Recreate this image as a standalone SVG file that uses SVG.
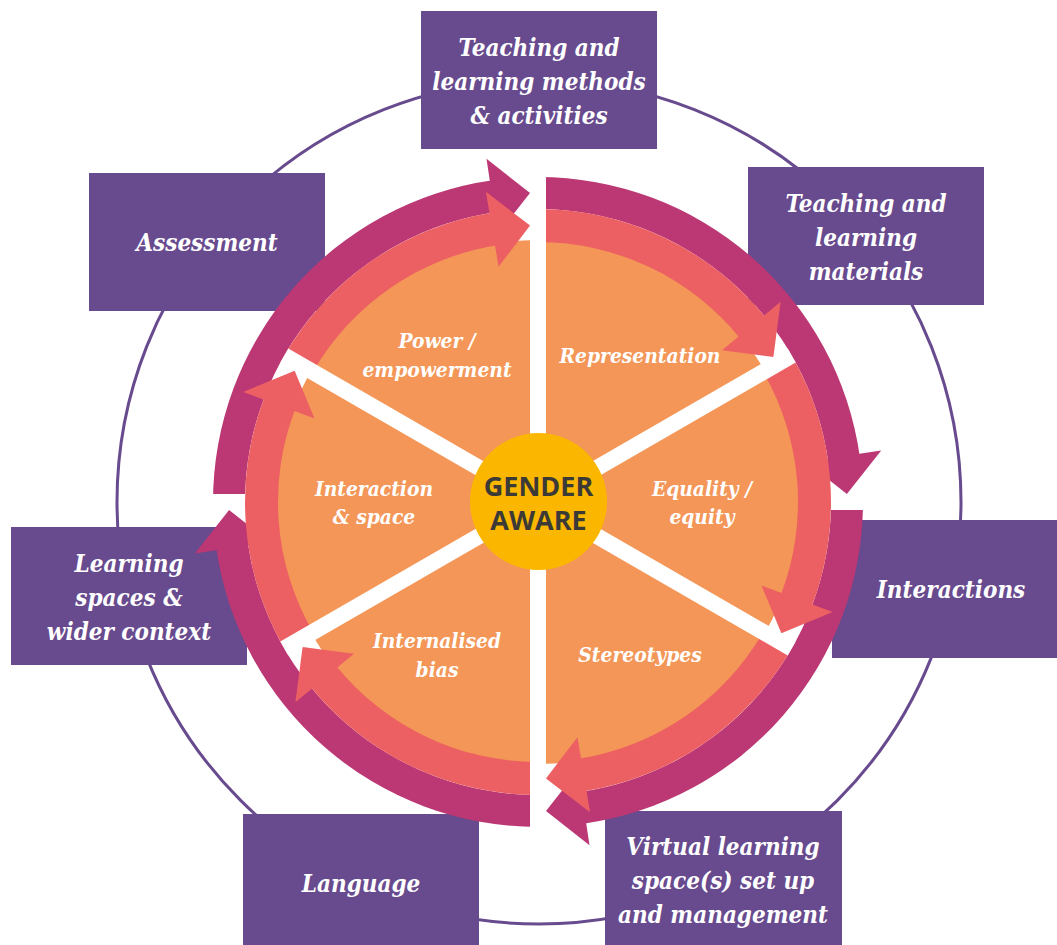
<svg xmlns="http://www.w3.org/2000/svg" xmlns:xlink="http://www.w3.org/1999/xlink" width="1057" height="945" viewBox="0 0 1057 945">
<style>
.box{fill:#684A8E}
.bt{font-family:'DejaVu Serif Condensed','DejaVu Serif',serif;font-stretch:condensed;font-style:italic;font-weight:bold;font-size:24px;fill:#fff;text-anchor:middle}
.pt{font-family:'DejaVu Serif Condensed','DejaVu Serif',serif;font-stretch:condensed;font-style:italic;font-weight:bold;font-size:20.8px;fill:#fff;text-anchor:middle}
.ct{font-family:'Open Sans','Noto Sans',sans-serif;font-weight:bold;font-size:27px;fill:#3C3A36;text-anchor:middle}
.mag{fill:#BB3874}
.cor{fill:#EC6063}
.gap{fill:#fff}
.ring{fill:none;stroke:#684A8E;stroke-width:3}
</style>
<defs>
<g id="magSeg"><path d="M538,177 A325,325 0 0 1 859.8,456.6 L828.1,461.1 A293,293 0 0 0 538,209 Z"/><path d="M881.2,450.5 L846.9,494.0 L806.0,461.8 Z"/></g>
<g id="corSeg"><path d="M538,209 A293,293 0 0 1 765.6,317.5 L740.0,338.3 A260,260 0 0 0 538,242 Z"/><path d="M780.6,301.8 L773.4,356.9 L722.0,350.2 Z"/></g>
</defs>
<rect width="1057" height="945" fill="#fff"/>
<circle class="ring" cx="539" cy="502" r="422"/>

<g id="box-methods"><rect class="box" x="421" y="11" width="236" height="138"/>
<text class="bt" x="539" y="56">Teaching and</text><text class="bt" x="539" y="90">learning methods</text><text class="bt" x="539" y="124">&amp; activities</text></g>
<g id="box-materials"><rect class="box" x="748" y="167" width="236" height="138"/>
<text class="bt" x="866" y="212">Teaching and</text><text class="bt" x="866" y="246">learning</text><text class="bt" x="866" y="280">materials</text></g>
<g id="box-assessment"><rect class="box" x="89" y="173" width="236" height="138"/>
<text class="bt" x="207" y="251">Assessment</text></g>
<g id="box-interactions"><rect class="box" x="832" y="520" width="238" height="138"/>
<text class="bt" x="951" y="598">Interactions</text></g>
<g id="box-spaces"><rect class="box" x="11" y="527" width="236" height="138"/>
<text class="bt" x="129" y="572">Learning</text><text class="bt" x="129" y="606">spaces &amp;</text><text class="bt" x="129" y="640">wider context</text></g>
<g id="box-language"><rect class="box" x="243" y="814" width="236" height="138"/>
<text class="bt" x="361" y="892">Language</text></g>
<g id="box-virtual"><rect class="box" x="605" y="811" width="237" height="138"/>
<text class="bt" x="723" y="855">Virtual learning</text><text class="bt" x="723" y="889">space(s) set up</text><text class="bt" x="723" y="923">and management</text></g>

<g id="wheel">
<circle cx="538" cy="502" r="262" fill="#F39657"/>
<g id="outer-arrows" class="mag">
<use xlink:href="#magSeg"/>
<use xlink:href="#magSeg" transform="rotate(90 538 502)"/>
<use xlink:href="#magSeg" transform="rotate(180 538 502)"/>
<use xlink:href="#magSeg" transform="rotate(270 538 502)"/>
</g>
<rect class="gap" x="826" y="494" width="58" height="16"/>
<rect class="gap" x="192" y="494" width="58" height="16"/>
<g id="inner-arrows" class="cor">
<use xlink:href="#corSeg"/>
<use xlink:href="#corSeg" transform="rotate(60 538 502)"/>
<use xlink:href="#corSeg" transform="rotate(120 538 502)"/>
<use xlink:href="#corSeg" transform="rotate(180 538 502)"/>
<use xlink:href="#corSeg" transform="rotate(240 538 502)"/>
<use xlink:href="#corSeg" transform="rotate(300 538 502)"/>
</g>
<g id="spokes" stroke="#fff" stroke-width="16">
<line x1="538" y1="502" x2="791.7" y2="355.5"/>
<line x1="538" y1="502" x2="791.7" y2="648.5"/>
<line x1="538" y1="502" x2="284.3" y2="648.5"/>
<line x1="538" y1="502" x2="284.3" y2="355.5"/>
</g>
<rect class="gap" x="530" y="168" width="16" height="668"/>
</g>

<g id="seg-power"><text class="pt" x="437" y="348">Power /</text><text class="pt" x="437" y="377">empowerment</text></g>
<g id="seg-representation"><text class="pt" x="640" y="363">Representation</text></g>
<g id="seg-interaction"><text class="pt" x="374" y="496">Interaction</text><text class="pt" x="374" y="524">&amp; space</text></g>
<g id="seg-equality"><text class="pt" x="702" y="496">Equality /</text><text class="pt" x="702" y="524">equity</text></g>
<g id="seg-bias"><text class="pt" x="437" y="648">Internalised</text><text class="pt" x="437" y="677">bias</text></g>
<g id="seg-stereotypes"><text class="pt" x="640" y="662">Stereotypes</text></g>

<g id="center"><circle cx="538.5" cy="501.5" r="68.5" fill="#FBB700"/>
<text class="ct" x="538.5" y="495.5">GENDER</text><text class="ct" x="538.5" y="529.5">AWARE</text></g>
</svg>
